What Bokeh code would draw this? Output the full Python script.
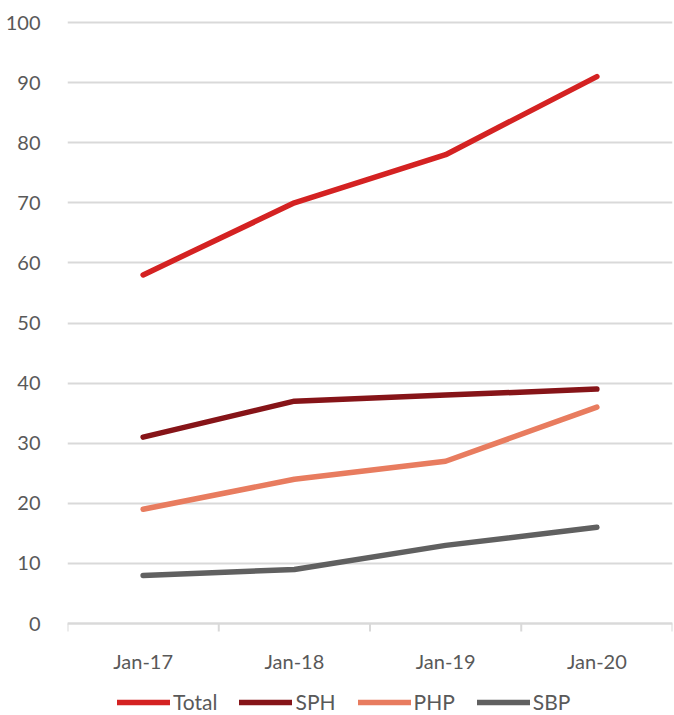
import numpy as np
from bokeh.plotting import figure
from bokeh.models import FixedTicker, Legend, LegendItem, Range1d
from bokeh.core.properties import value
from bokeh.embed import file_html
from bokeh.resources import INLINE

categories = ["Jan-17", "Jan-18", "Jan-19", "Jan-20"]
total = [58, 70, 78, 91]
sph = [31, 37, 38, 39]
php = [19, 24, 27, 36]
sbp = [8, 9, 13, 16]
y_ticks = [0, 10, 20, 30, 40, 50, 60, 70, 80, 90, 100]

series = [("Total", total, "#D42222"), ("SPH", sph, "#861418"),
          ("PHP", php, "#E87C5F"), ("SBP", sbp, "#606060")]

FONT = "Lato"
TXT = "#595959"
GRID = "#D9D9D9"

n = len(categories)
xs = np.arange(n) + 0.5
bounds = np.arange(n + 1)

# frame spans full height; value range padded so that 0..100 sits where the reference draws it
px_per_unit = 601 / 100.0
y_lo = -(92 / px_per_unit)
y_hi = 100 + 22 / px_per_unit

p = figure(frame_width=605, frame_height=715, output_backend="svg", toolbar_location=None,
           x_range=Range1d(0, n), y_range=Range1d(y_lo, y_hi), x_axis_location=None,
           min_border_left=67, min_border_right=2, min_border_top=0, min_border_bottom=0)
p.outline_line_color = None
p.background_fill_color = "white"
p.border_fill_color = "white"
p.xgrid.grid_line_color = None

p.yaxis.ticker = FixedTicker(ticks=y_ticks)
p.yaxis.axis_line_color = None
p.yaxis.major_tick_line_color = None
p.yaxis.minor_tick_line_color = None
p.yaxis.major_label_text_font = FONT
p.yaxis.major_label_text_font_size = "20px"
p.yaxis.major_label_text_color = TXT
p.yaxis.major_label_standoff = 21
p.ygrid.ticker = FixedTicker(ticks=y_ticks)
p.ygrid.grid_line_color = GRID
p.ygrid.grid_line_width = 2

# category axis: baseline, boundary ticks and labels
p.line([bounds[0], bounds[-1]], [0, 0], line_color=GRID, line_width=2)
p.ray(x=bounds, y=np.zeros(n + 1), length=8, length_units="screen", angle=-np.pi / 2,
      line_color=GRID, line_width=2)
p.text(x=xs, y=np.zeros(n), text=categories, y_offset=37, text_align="center",
       text_baseline="middle", text_font=value(FONT), text_font_size=value("20px"),
       text_color=TXT)

items = []
for name, vals, col in series:
    r = p.line(xs, vals, line_color=col, line_width=5.5, line_cap="round", line_join="round")
    items.append(LegendItem(label=name, renderers=[r]))

legend = Legend(items=items, orientation="horizontal", location=(50, 1),
                label_text_font=FONT, label_text_font_size="21px", label_text_color=TXT,
                glyph_width=53, glyph_height=20, label_standoff=3, spacing=22,
                border_line_color=None, background_fill_alpha=0, padding=0, margin=0)
p.add_layout(legend)

open("out.html", "w").write(file_html(p, INLINE))
